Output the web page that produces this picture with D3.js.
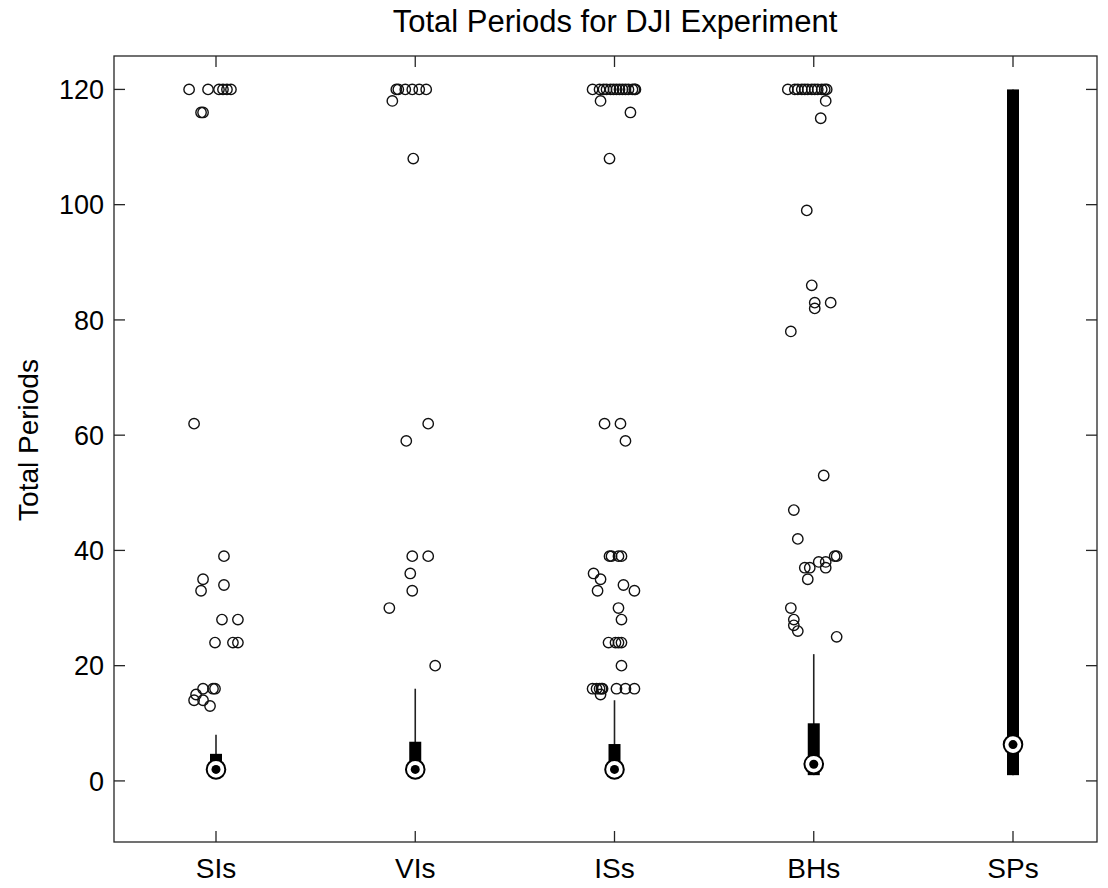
<!DOCTYPE html>
<html>
<head>
<meta charset="utf-8">
<script src="https://cdn.jsdelivr.net/npm/d3@7"></script>
<style>
  body { margin: 0; background: #fff; }
  text { font-family: "Liberation Sans", Arial, sans-serif; fill: #000; }
</style>
</head>
<body>
<script>
const width = 1108;
const height = 888;

// groups
const categories = ["SIs", "VIs", "ISs", "BHs", "SPs"];
const q1 = [1, 1, 1, 1, 1];
const q3 = [4.7, 6.8, 6.4, 10, 120];
const medians = [2, 2, 2, 2.9, 6.3];
const whiskerLow = [1, 1, 1, 1, 1];
const whiskerHigh = [8, 16, 14, 22, 120];
const yTicks = [0, 20, 40, 60, 80, 100, 120];

// outliers: [value, jitter (fraction of group spacing)]
const outliersSIs = [
  [120, -0.135], [120, -0.04], [120, 0.015], [120, 0.035], [120, 0.055], [120, 0.075],
  [116, -0.075], [116, -0.065], [62, -0.11], [39, 0.04], [35, -0.065], [33, -0.075],
  [34, 0.04], [28, 0.03], [28, 0.11], [24, -0.005], [24, 0.085], [24, 0.11],
  [16, -0.065], [16, -0.015], [16, -0.005], [15, -0.1], [14, -0.11], [14, -0.065], [13, -0.03]
];
const outliersVIs = [
  [120, -0.095], [120, -0.085], [120, -0.05], [120, -0.015], [120, 0.02], [120, 0.055],
  [118, -0.115], [108, -0.01], [62, 0.065], [59, -0.045], [39, -0.015], [39, 0.065],
  [36, -0.025], [33, -0.015], [30, -0.13], [20, 0.1]
];
const outliersISs = [
  [120, -0.11], [120, -0.075], [120, -0.055], [120, -0.04], [120, -0.02], [120, -0.005],
  [120, 0.01], [120, 0.025], [120, 0.04], [120, 0.055], [120, 0.07], [120, 0.09],
  [120, 0.1], [120, 0.105], [118, -0.07], [116, 0.08], [108, -0.025], [62, -0.05],
  [62, 0.03], [59, 0.055], [39, -0.025], [39, -0.015], [39, 0.02], [39, 0.035],
  [36, -0.105], [35, -0.07], [33, -0.085], [33, 0.1], [34, 0.045], [30, 0.02], [28, 0.035],
  [24, -0.03], [24, 0.005], [24, 0.02], [24, 0.035], [20, 0.035],
  [16, -0.11], [16, -0.09], [16, -0.075], [16, -0.065], [16, -0.06], [16, 0.01],
  [16, 0.055], [16, 0.1], [15, -0.07]
];
const outliersBHs = [
  [120, -0.13], [120, -0.095], [120, -0.08], [120, -0.06], [120, -0.045], [120, -0.03],
  [120, -0.01], [120, 0.005], [120, 0.02], [120, 0.04], [120, 0.055], [120, 0.065],
  [118, 0.06], [115, 0.035], [99, -0.035], [86, -0.01], [83, 0.005], [83, 0.085],
  [82, 0.005], [78, -0.115], [53, 0.05], [47, -0.1], [42, -0.08], [39, 0.105], [39, 0.115],
  [38, 0.025], [38, 0.06], [37, -0.045], [37, -0.02], [37, 0.06], [35, -0.03],
  [30, -0.115], [28, -0.1], [27, -0.1], [26, -0.08], [25, 0.115]
];
const outliersSPs = [];
const outliers = [outliersSIs, outliersVIs, outliersISs, outliersBHs, outliersSPs];

const frame = { left: 114, right: 1097, top: 56, bottom: 842 };

const svg = d3
  .select("body")
  .append("svg")
  .attr("width", width)
  .attr("height", height);

const x = d3.scaleLinear().domain([1, 5]).range([216, 1013]);
const y = d3.scaleLinear().domain([-10.6, 125.8]).range([frame.bottom, frame.top]);
const step = x(2) - x(1);

// frame
svg
  .append("rect")
  .attr("x", frame.left)
  .attr("y", frame.top)
  .attr("width", frame.right - frame.left)
  .attr("height", frame.bottom - frame.top)
  .attr("fill", "none")
  .attr("stroke", "#262626")
  .attr("stroke-width", 1.3);

// y ticks, both sides, pointing inward
const tickLen = 11;
svg
  .append("g")
  .selectAll("line")
  .data(yTicks)
  .join("line")
  .attr("x1", frame.left)
  .attr("x2", frame.left + tickLen)
  .attr("y1", (d) => y(d))
  .attr("y2", (d) => y(d))
  .attr("stroke", "#262626")
  .attr("stroke-width", 1.3);
svg
  .append("g")
  .selectAll("line")
  .data(yTicks)
  .join("line")
  .attr("x1", frame.right - tickLen)
  .attr("x2", frame.right)
  .attr("y1", (d) => y(d))
  .attr("y2", (d) => y(d))
  .attr("stroke", "#262626")
  .attr("stroke-width", 1.3);
svg
  .append("g")
  .selectAll("text")
  .data(yTicks)
  .join("text")
  .attr("x", frame.left - 10)
  .attr("y", (d) => y(d))
  .attr("dy", "0.36em")
  .attr("text-anchor", "end")
  .attr("font-size", 27)
  .text((d) => d);

// x ticks top and bottom
const xIdx = d3.range(1, categories.length + 1);
svg
  .append("g")
  .selectAll("line")
  .data(xIdx)
  .join("line")
  .attr("x1", (d) => x(d))
  .attr("x2", (d) => x(d))
  .attr("y1", frame.bottom)
  .attr("y2", frame.bottom - tickLen)
  .attr("stroke", "#262626")
  .attr("stroke-width", 1.3);
svg
  .append("g")
  .selectAll("line")
  .data(xIdx)
  .join("line")
  .attr("x1", (d) => x(d))
  .attr("x2", (d) => x(d))
  .attr("y1", frame.top)
  .attr("y2", frame.top + tickLen)
  .attr("stroke", "#262626")
  .attr("stroke-width", 1.3);
svg
  .append("g")
  .selectAll("text")
  .data(categories)
  .join("text")
  .attr("x", (d, i) => x(i + 1))
  .attr("y", 878)
  .attr("text-anchor", "middle")
  .attr("font-size", 28)
  .text((d) => d);

// labels
svg
  .append("text")
  .attr("x", 615)
  .attr("y", 32)
  .attr("text-anchor", "middle")
  .attr("font-size", 31)
  .text("Total Periods for DJI Experiment");
svg
  .append("text")
  .attr("transform", "translate(38, 440) rotate(-90)")
  .attr("text-anchor", "middle")
  .attr("font-size", 28)
  .text("Total Periods");

// boxes
const groups = categories.map((c, i) => ({
  i: i + 1,
  q1: q1[i],
  q3: q3[i],
  med: medians[i],
  lo: whiskerLow[i],
  hi: whiskerHigh[i],
  out: outliers[i],
}));

const box = svg.append("g").selectAll("g").data(groups).join("g");

box
  .append("line")
  .attr("x1", (d) => x(d.i))
  .attr("x2", (d) => x(d.i))
  .attr("y1", (d) => y(d.hi))
  .attr("y2", (d) => y(d.lo))
  .attr("stroke", "#222")
  .attr("stroke-width", 1.6);

box
  .append("rect")
  .attr("x", (d) => x(d.i) - 6)
  .attr("width", 12)
  .attr("y", (d) => y(d.q3))
  .attr("height", (d) => y(d.q1) - y(d.q3))
  .attr("fill", "#000");

box
  .append("circle")
  .attr("cx", (d) => x(d.i))
  .attr("cy", (d) => y(d.med))
  .attr("r", 9.3)
  .attr("fill", "#fff")
  .attr("stroke", "#000")
  .attr("stroke-width", 2);

box
  .append("circle")
  .attr("cx", (d) => x(d.i))
  .attr("cy", (d) => y(d.med))
  .attr("r", 4.5)
  .attr("fill", "#000");

box
  .selectAll(".outlier")
  .data((d) => d.out.map((o) => ({ i: d.i, v: o[0], j: o[1] })))
  .join("circle")
  .attr("class", "outlier")
  .attr("cx", (d) => x(d.i) + d.j * step)
  .attr("cy", (d) => y(d.v))
  .attr("r", 5.2)
  .attr("fill", "none")
  .attr("stroke", "#111")
  .attr("stroke-width", 1.4);
</script>
</body>
</html>
